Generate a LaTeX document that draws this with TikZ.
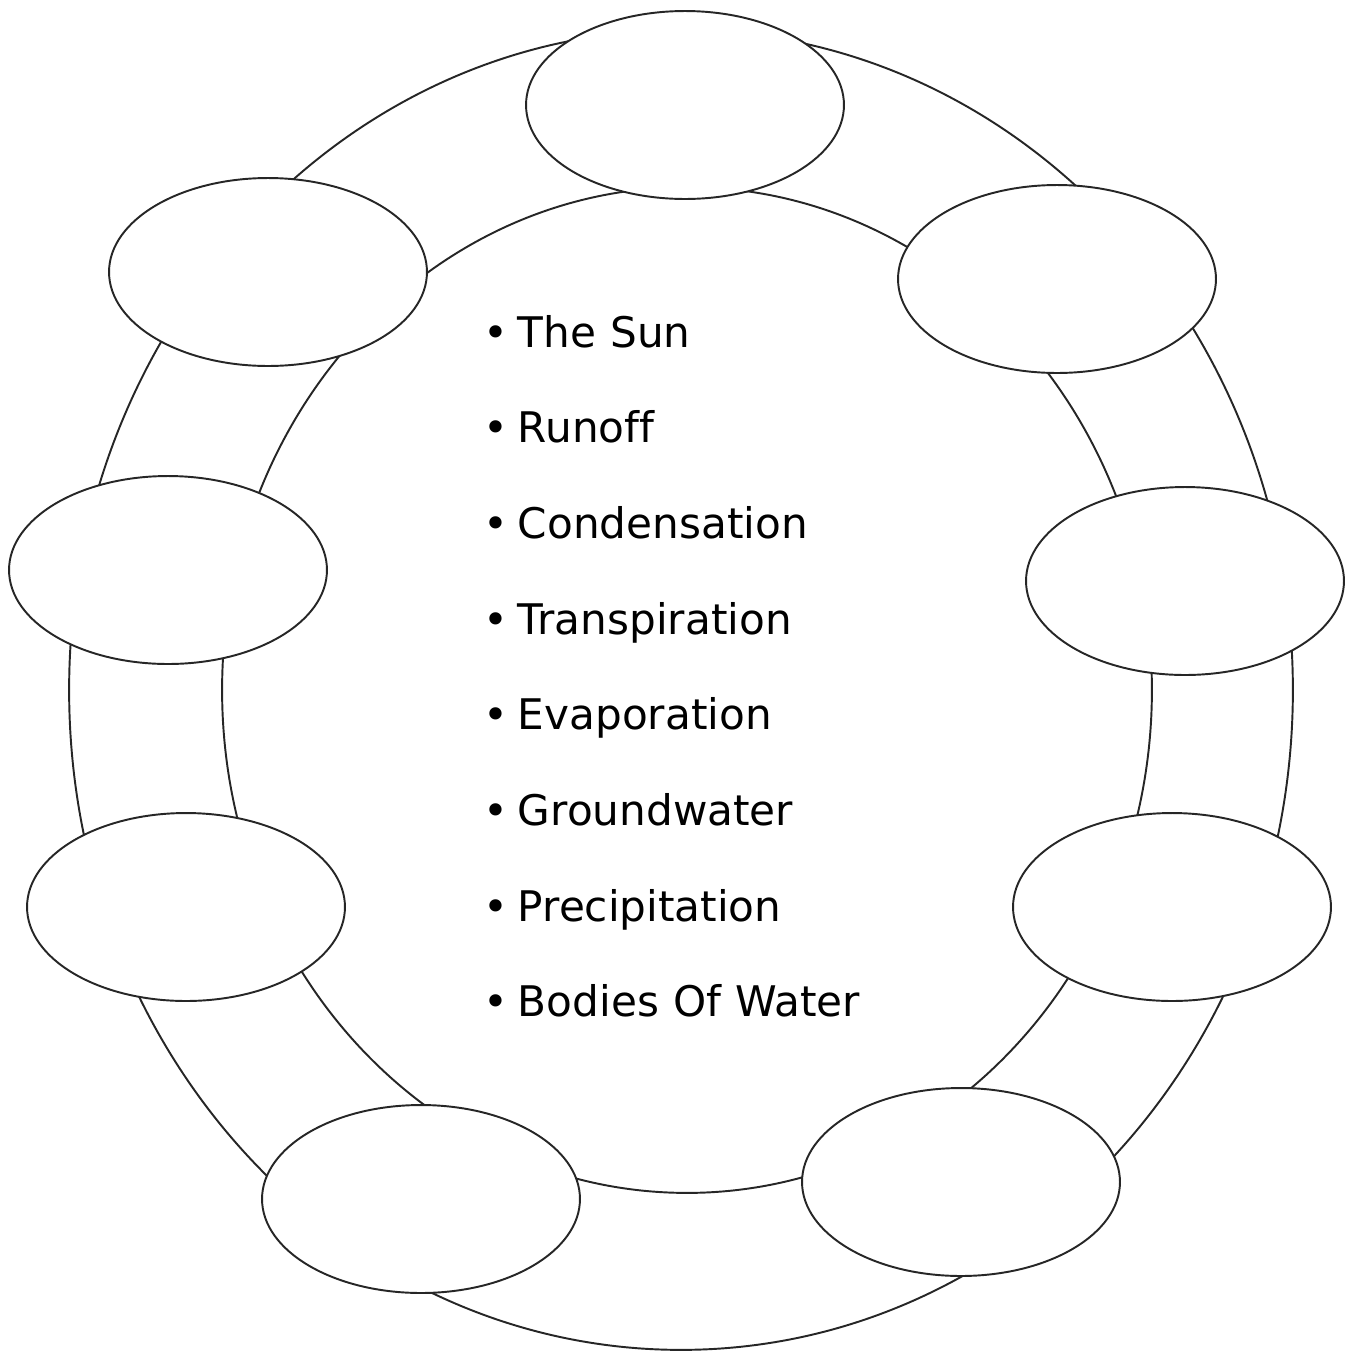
\documentclass[tikz,border=0pt]{standalone}
\usepackage{fontspec}
\setmainfont[Ligatures=NoCommon]{DejaVu Sans}
\usetikzlibrary{shapes.geometric,positioning}

\begin{document}
\begin{tikzpicture}[
  x=0.02cm, y=-0.02cm,
  ring/.style={draw=black!85, line width=1.1pt},
  blank/.style={ellipse, draw=black!85, line width=1.1pt, fill=white,
                minimum width=6.36cm, minimum height=3.76cm, inner sep=0pt},
  item/.style={font=\fontsize{24}{28}\selectfont, text width=9cm, align=left,
               inner sep=0pt, text height=0.7cm, text depth=0.2cm,
               execute at begin node={\textbullet\kern5.5pt}},
]
\useasboundingbox (0,0) rectangle (1351,1353);

\draw[ring] (681,690) ellipse [x radius=12.24cm, y radius=13.2cm];
\draw[ring] (687,690) ellipse [x radius=9.3cm, y radius=10.06cm];

\node[blank] (top)    at (685,105)  {};
\node[blank] (upleft) at (268,272)  {};
\node[blank] (upright)at (1057,279) {};
\node[blank] (left)   at (168,570)  {};
\node[blank] (right)  at (1185,581) {};
\node[blank] (lowleft)at (186,907)  {};
\node[blank] (lowright)at (1172,907){};
\node[blank] (botleft)at (421,1199) {};
\node[blank] (botright)at (961,1182){};

\node[item, anchor=base west] (sun) at (483,347) {The Sun};
\node[item, below=1cm of sun]     (runoff) {Runoff};
\node[item, below=1cm of runoff]  (cond)   {Condensation};
\node[item, below=1cm of cond]    (trans)  {Transpiration};
\node[item, below=1cm of trans]   (evap)   {Evaporation};
\node[item, below=1cm of evap]    (ground) {Groundwater};
\node[item, below=1cm of ground]  (precip) {Precipitation};
\node[item, below=1cm of precip]  (bodies) {Bodies Of Water};

\end{tikzpicture}
\end{document}
